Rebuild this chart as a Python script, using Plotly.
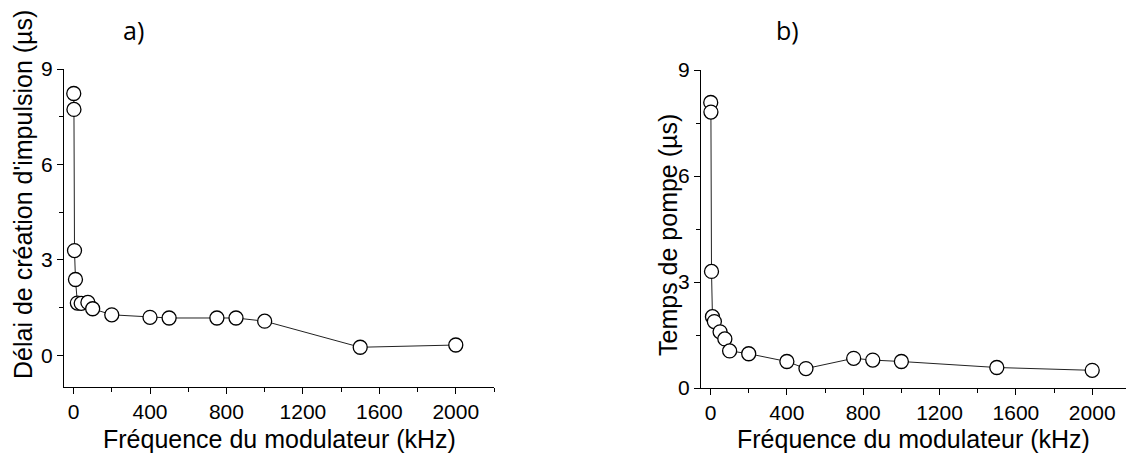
import plotly.graph_objects as go

# ---- data ----
freq_a = [1, 2, 5, 10, 20, 40, 75, 100, 200, 400, 500, 750, 850, 1000, 1500, 2000]
delay_a = [8.23, 7.73, 3.29, 2.38, 1.64, 1.63, 1.66, 1.46, 1.27, 1.19, 1.17, 1.17, 1.17, 1.07, 0.25, 0.32]

freq_b = [1, 2, 5, 10, 20, 50, 75, 100, 200, 400, 500, 750, 850, 1000, 1500, 2000]
pump_b = [8.08, 7.81, 3.30, 2.02, 1.88, 1.59, 1.39, 1.05, 0.97, 0.75, 0.55, 0.84, 0.79, 0.75, 0.58, 0.50]

x_ticks = [0, 400, 800, 1200, 1600, 2000]
y_ticks = [0, 3, 6, 9]

x_title = "Fréquence du modulateur (kHz)"
y_title_a = "Délai de création d'impulsion (µs)"
y_title_b = "Temps de pompe (µs)"
panel_labels = ["a)", "b)"]

W, H = 1126, 456
def fx(px): return px / W
def fy(py): return 1 - py / H

FONT = "Liberation Sans, Arial, sans-serif"

fig = go.Figure()
marker = dict(symbol="circle", size=14, color="white", line=dict(color="black", width=1.3))
line = dict(color="#222", width=1)

fig.add_trace(go.Scatter(x=freq_a, y=delay_a, mode="lines+markers", marker=marker, line=line,
                         xaxis="x", yaxis="y", showlegend=False))
fig.add_trace(go.Scatter(x=freq_b, y=pump_b, mode="lines+markers", marker=marker, line=line,
                         xaxis="x2", yaxis="y2", showlegend=False))

axis_common = dict(showline=True, linecolor="black", linewidth=1.3, showgrid=False, zeroline=False,
                   automargin=False,
                   ticks="outside", ticklen=6, tickwidth=1.2, tickcolor="black",
                   tickfont=dict(family=FONT, size=21, color="black"))

fig.update_layout(
    template="none",
    width=W, height=H, margin=dict(l=0, r=0, t=0, b=0, autoexpand=False),
    paper_bgcolor="white", plot_bgcolor="white",
    xaxis=dict(domain=[fx(64), fx(494)], range=[-50, 2200], anchor="y",
               tickvals=x_ticks, minor=dict(dtick=200, tick0=0, ticks="outside", ticklen=4, tickcolor="black"),
               **axis_common),
    yaxis=dict(domain=[fy(387), fy(69)], range=[-1, 9], anchor="x",
               tickvals=y_ticks, minor=dict(dtick=1.5, tick0=0, ticks="outside", ticklen=4, tickcolor="black"),
               **axis_common),
    xaxis2=dict(domain=[fx(701), 1.0], range=[-50, 2177], anchor="y2",
                tickvals=x_ticks, minor=dict(dtick=200, tick0=0, ticks="outside", ticklen=4, tickcolor="black"),
                **axis_common),
    yaxis2=dict(domain=[fy(388), fy(70)], range=[0, 9], anchor="x2",
                tickvals=y_ticks, minor=dict(dtick=1.5, tick0=0, ticks="outside", ticklen=4, tickcolor="black"),
                **axis_common),
)

tfont = dict(family=FONT, size=25, color="black")
ann = [
    dict(text=x_title, x=fx(279), y=fy(439), xref="paper", yref="paper", showarrow=False,
         xanchor="center", yanchor="middle", font=tfont),
    dict(text=x_title, x=fx(913), y=fy(439), xref="paper", yref="paper", showarrow=False,
         xanchor="center", yanchor="middle", font=tfont),
    dict(text=y_title_a, x=fx(23), y=fy(195), xref="paper", yref="paper", showarrow=False,
         xanchor="center", yanchor="middle", textangle=-90, font=tfont),
    dict(text=y_title_b, x=fx(668), y=fy(235), xref="paper", yref="paper", showarrow=False,
         xanchor="center", yanchor="middle", textangle=-90, font=tfont),
    dict(text=panel_labels[0], x=fx(133), y=fy(30), xref="paper", yref="paper", showarrow=False,
         xanchor="center", yanchor="middle", font=dict(family="Open Sans, sans-serif", size=25, color="black")),
    dict(text=panel_labels[1], x=fx(787), y=fy(30), xref="paper", yref="paper", showarrow=False,
         xanchor="center", yanchor="middle", font=dict(family="Open Sans, sans-serif", size=25, color="black")),
]
fig.update_layout(annotations=ann)

fig.write_html("out.html", config={"displayModeBar": False},
               post_script="document.body.style.margin='0';document.body.style.overflow='hidden';")
